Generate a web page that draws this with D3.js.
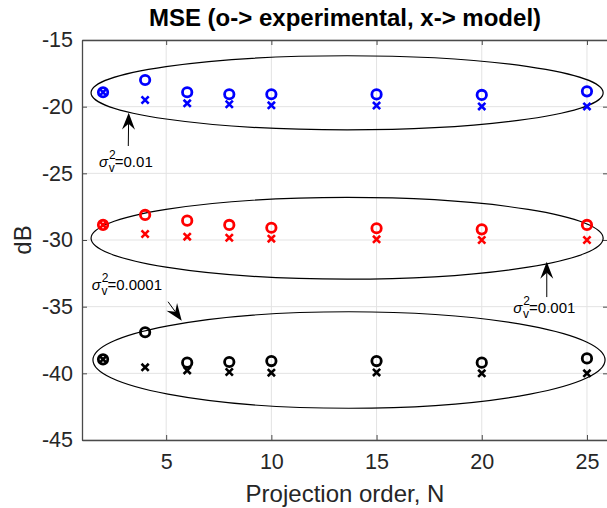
<!DOCTYPE html>
<html>
<head>
<meta charset="utf-8">
<script src="https://cdn.jsdelivr.net/npm/d3@7"></script>
<style>
  body { margin: 0; background: #fff; }
  svg { font-family: "Liberation Sans", Arial, sans-serif; }
</style>
</head>
<body>
<div id="chart"></div>
<script>
// projection orders and MSE values in dB
const orders = [2, 4, 6, 8, 10, 15, 20, 25];
const expBlue = [-18.92, -18.0, -18.92, -19.07, -19.07, -19.08, -19.12, -18.85];
const modBlue = [-18.92, -19.5, -19.75, -19.82, -19.9, -19.92, -19.98, -19.98];
const expRed = [-28.87, -28.12, -28.55, -28.87, -29.08, -29.12, -29.2, -28.87];
const modRed = [-28.87, -29.55, -29.75, -29.83, -29.9, -29.95, -30.0, -30.0];
const expBlack = [-38.95, -36.92, -39.2, -39.15, -39.08, -39.08, -39.2, -38.88];
const modBlack = [-38.95, -39.55, -39.78, -39.9, -39.95, -39.93, -40.0, -40.0];

const xTicks = [5, 10, 15, 20, 25];
const yTicks = [-45, -40, -35, -30, -25, -20, -15];

// ellipses around each noise level group: [cx, cy, rx, ry] in data units
const ellipses = [
    [13.6, -18.96, 12.17, 2.78],
    [13.6, -29.87, 12.17, 3.06],
    [13.69, -39.0, 12.17, 3.62]
];
// annotation arrows: [tailX, tailY, tipX, tipY]
const arrows = [
    [3.2, -22.95, 3.22, -20.45],
    [5.09, -34.63, 5.74, -36.05],
    [23.09, -34.28, 23.09, -31.63]
];
// noise variance labels: [x, y, value]
const labels = [
    [1.81, -24.49, "0.01"],
    [1.46, -33.75, "0.0001"],
    [21.5, -35.51, "0.001"]
];

const width = 607, height = 508;
const margins = { top: 40, right: -1, bottom: 68, left: 82 };

const svg = d3.select("#chart").append("svg")
    .attr("width", width)
    .attr("height", height);

const x = d3.scaleLinear().domain([1, 26]).range([margins.left, width - margins.right]);
const y = d3.scaleLinear().domain([-45, -15]).range([height - margins.bottom, margins.top]);

const axisColor = "#262626";

// grid
const grid = svg.append("g");
grid.selectAll(".gx").data(xTicks).join("line")
    .attr("x1", d => x(d)).attr("x2", d => x(d))
    .attr("y1", y(-45)).attr("y2", y(-15))
    .attr("stroke", "#e3e3e3").attr("stroke-width", 1);
grid.selectAll(".gy").data(yTicks).join("line")
    .attr("y1", d => y(d)).attr("y2", d => y(d))
    .attr("x1", x(1)).attr("x2", x(26))
    .attr("stroke", "#e3e3e3").attr("stroke-width", 1);

// axes, ticks inside like matlab
const gx = svg.append("g")
    .attr("transform", `translate(0,${y(-45)})`)
    .call(d3.axisBottom(x).tickValues(xTicks).tickSize(-5).tickPadding(14).tickSizeOuter(0));
const gxTop = svg.append("g")
    .attr("transform", `translate(0,${y(-15)})`)
    .call(d3.axisTop(x).tickValues(xTicks).tickSize(-5).tickFormat("").tickSizeOuter(0));
const gy = svg.append("g")
    .attr("transform", `translate(${x(1)},0)`)
    .call(d3.axisLeft(y).tickValues(yTicks).tickSize(-5).tickPadding(9).tickSizeOuter(0));
const gyRight = svg.append("g")
    .attr("transform", `translate(${x(26)},0)`)
    .call(d3.axisRight(y).tickValues(yTicks).tickSize(-5).tickFormat("").tickSizeOuter(0));

[gx, gxTop, gy, gyRight].forEach(g => {
    g.selectAll(".domain").attr("stroke", "#4a4a4a").attr("stroke-width", 1.3);
    g.selectAll(".tick line").attr("stroke", "#4a4a4a");
    g.selectAll("text").attr("fill", axisColor).style("font-size", "21.5px");
});
gy.selectAll("text").text(d => d3.format("d")(d).replace("\u2212", "-"));

// ellipses
svg.append("g").selectAll("ellipse").data(ellipses).join("ellipse")
    .attr("cx", d => x(d[0]))
    .attr("cy", d => y(d[1]))
    .attr("rx", d => x(d[0] + d[2]) - x(d[0]))
    .attr("ry", d => y(d[1] - d[3]) - y(d[1]))
    .attr("fill", "none")
    .attr("stroke", "#000")
    .attr("stroke-width", 1.2);

// markers
const series = [
    { exp: expBlue, mod: modBlue, color: "#0000ff" },
    { exp: expRed, mod: modRed, color: "#ff0000" },
    { exp: expBlack, mod: modBlack, color: "#000000" }
];

const marks = svg.append("g");
series.forEach(s => {
    marks.append("g").selectAll("circle")
        .data(orders.map((n, i) => [n, s.exp[i]]))
        .join("circle")
        .attr("cx", d => x(d[0]))
        .attr("cy", d => y(d[1]))
        .attr("r", 4.7)
        .attr("fill", "none")
        .attr("stroke", s.color)
        .attr("stroke-width", 2.8);
    marks.append("g").selectAll("path")
        .data(orders.map((n, i) => [n, s.mod[i]]))
        .join("path")
        .attr("d", d => {
            const cx = x(d[0]), cy = y(d[1]), h = 3.6;
            return `M${cx - h},${cy - h}L${cx + h},${cy + h}M${cx - h},${cy + h}L${cx + h},${cy - h}`;
        })
        .attr("stroke", s.color)
        .attr("stroke-width", 2.6)
        .attr("fill", "none");
});

// arrows with matlab-like notched head
const arrowG = svg.append("g");
arrows.forEach(a => {
    const x0 = x(a[0]), y0 = y(a[1]), x1 = x(a[2]), y1 = y(a[3]);
    const ang = Math.atan2(y1 - y0, x1 - x0);
    const len = 17, hw = 6.5, notch = 11;
    const ux = Math.cos(ang), uy = Math.sin(ang);
    const px = -uy, py = ux;
    const bx = x1 - ux * len, by = y1 - uy * len;
    const nx = x1 - ux * notch, ny = y1 - uy * notch;
    arrowG.append("line")
        .attr("x1", x0).attr("y1", y0)
        .attr("x2", nx).attr("y2", ny)
        .attr("stroke", "#000").attr("stroke-width", 1);
    arrowG.append("path")
        .attr("d", `M${x1},${y1}L${bx + px * hw},${by + py * hw}L${nx},${ny}L${bx - px * hw},${by - py * hw}Z`)
        .attr("fill", "#000");
});

// sigma labels
const labelG = svg.append("g").style("font-size", "15px").attr("fill", "#000");
labels.forEach(l => {
    const t = labelG.append("text")
        .attr("x", x(l[0]))
        .attr("y", y(l[1]));
    t.append("tspan").style("font-style", "italic").text("\u03c3");
    t.append("tspan").attr("dx", 1).attr("dy", -8).style("font-size", "12px").text("2");
    t.append("tspan").attr("dx", -7).attr("dy", 13).style("font-size", "12px").text("v");
    t.append("tspan").attr("dy", -5).text("=" + l[2]);
});

// title and axis labels
svg.append("text")
    .attr("x", (x(1) + x(26)) / 2)
    .attr("y", 26)
    .attr("text-anchor", "middle")
    .style("font-size", "24px")
    .style("font-weight", "bold")
    .attr("fill", "#000")
    .text("MSE (o-> experimental, x-> model)");

svg.append("text")
    .attr("x", (x(1) + x(26)) / 2)
    .attr("y", 502)
    .attr("text-anchor", "middle")
    .style("font-size", "24px")
    .attr("fill", axisColor)
    .text("Projection order, N");

svg.append("text")
    .attr("transform", `translate(31,${(y(-45) + y(-15)) / 2}) rotate(-90)`)
    .attr("text-anchor", "middle")
    .style("font-size", "24px")
    .attr("fill", axisColor)
    .text("dB");
</script>
</body>
</html>
